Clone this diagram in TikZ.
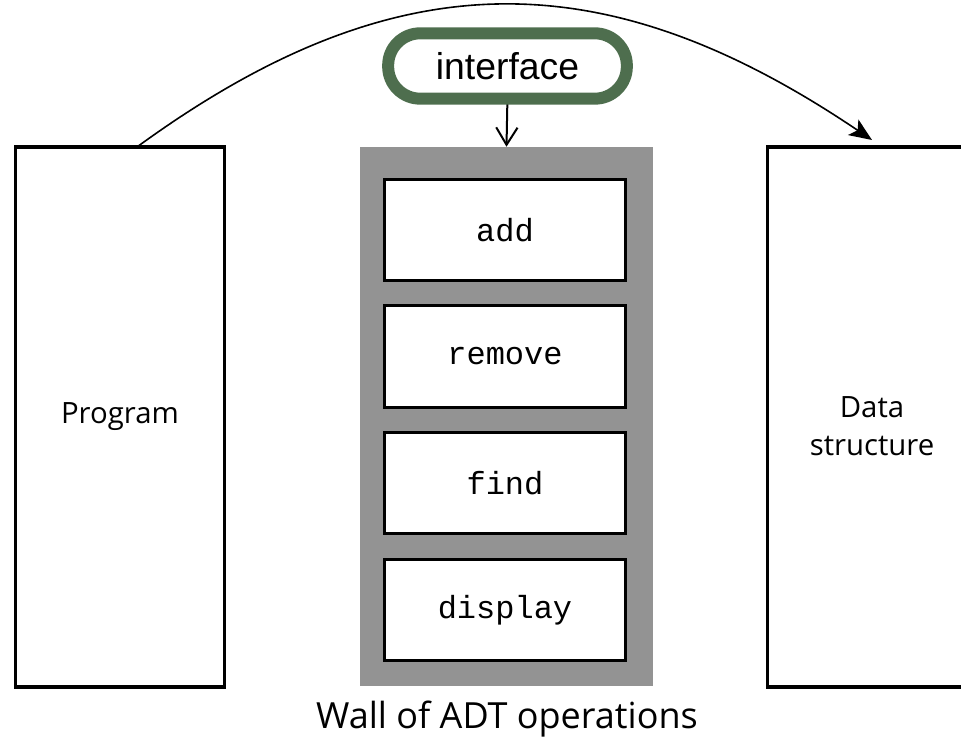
\documentclass[tikz,border=0pt]{standalone}
\usepackage{fontspec}
\setmainfont{Open Sans}
\newfontfamily\arialfont{Liberation Sans}
\newfontfamily\monofont{Liberation Mono}
\usetikzlibrary{arrows.meta}
\definecolor{wallgray}{RGB}{147,147,147}
\definecolor{ifgreen}{RGB}{78,110,78}
\tikzset{
  side/.style={draw=black, line width=2.4pt, minimum width=157pt, minimum height=405pt, inner sep=0pt},
  sidetext/.style={font=\fontsize{22}{28.5}\selectfont, align=center, inner sep=0pt},
  opbox/.style={draw=black, fill=white, line width=2.3pt, minimum width=181pt, minimum height=76pt, inner sep=0pt, font=\monofont\fontsize{24}{28}\selectfont},
}
\begin{document}
\begin{tikzpicture}[x=0.75pt,y=-0.75pt]
\useasboundingbox (0,0) rectangle (961,741);
\clip (0,0) rectangle (961,741);
% wall
\node[fill=wallgray, minimum width=219.75pt, minimum height=404.25pt, inner sep=0pt] (wall) at (506.5,416.5) {};
\node[opbox] (add) at (505,230) {add};
\node[opbox] (remove) at (505,356.5) {remove};
\node[opbox] (find) at (505,483) {find};
\node[opbox] (display) at (505,610) {display};
% side boxes
\node[side] (prog) at (120,417) {};
\node[sidetext] (progtxt) at (120,417) {Program};
\node[side] (data) at (872,417) {};
\node[sidetext] (datatxt) at (872,426) {Data\\structure};
% caption
\node[font=\fontsize{27}{30}\selectfont] (cap) at (507,719) {Wall of ADT operations};
% interface
\draw[line width=1.5pt, -{Straight Barb[length=13pt,width=16pt]}] (507.5,95) -- (wall.north);
\node[draw=ifgreen, line width=9pt, rounded corners=24pt, minimum width=179pt, minimum height=49pt, inner sep=0pt, font=\arialfont\fontsize{28}{32}\selectfont] (iface) at (507.5,66) {\raisebox{-2pt}{interface}};
% arc
\coordinate (arcstart) at (137,147);
\coordinate (arcend) at (872,140);
\draw[line width=1.2pt, -{Stealth[length=17pt,width=14pt,inset=4pt]}] (arcstart) .. controls (395,-41) and (604,-41) .. (arcend);
\end{tikzpicture}
\end{document}
